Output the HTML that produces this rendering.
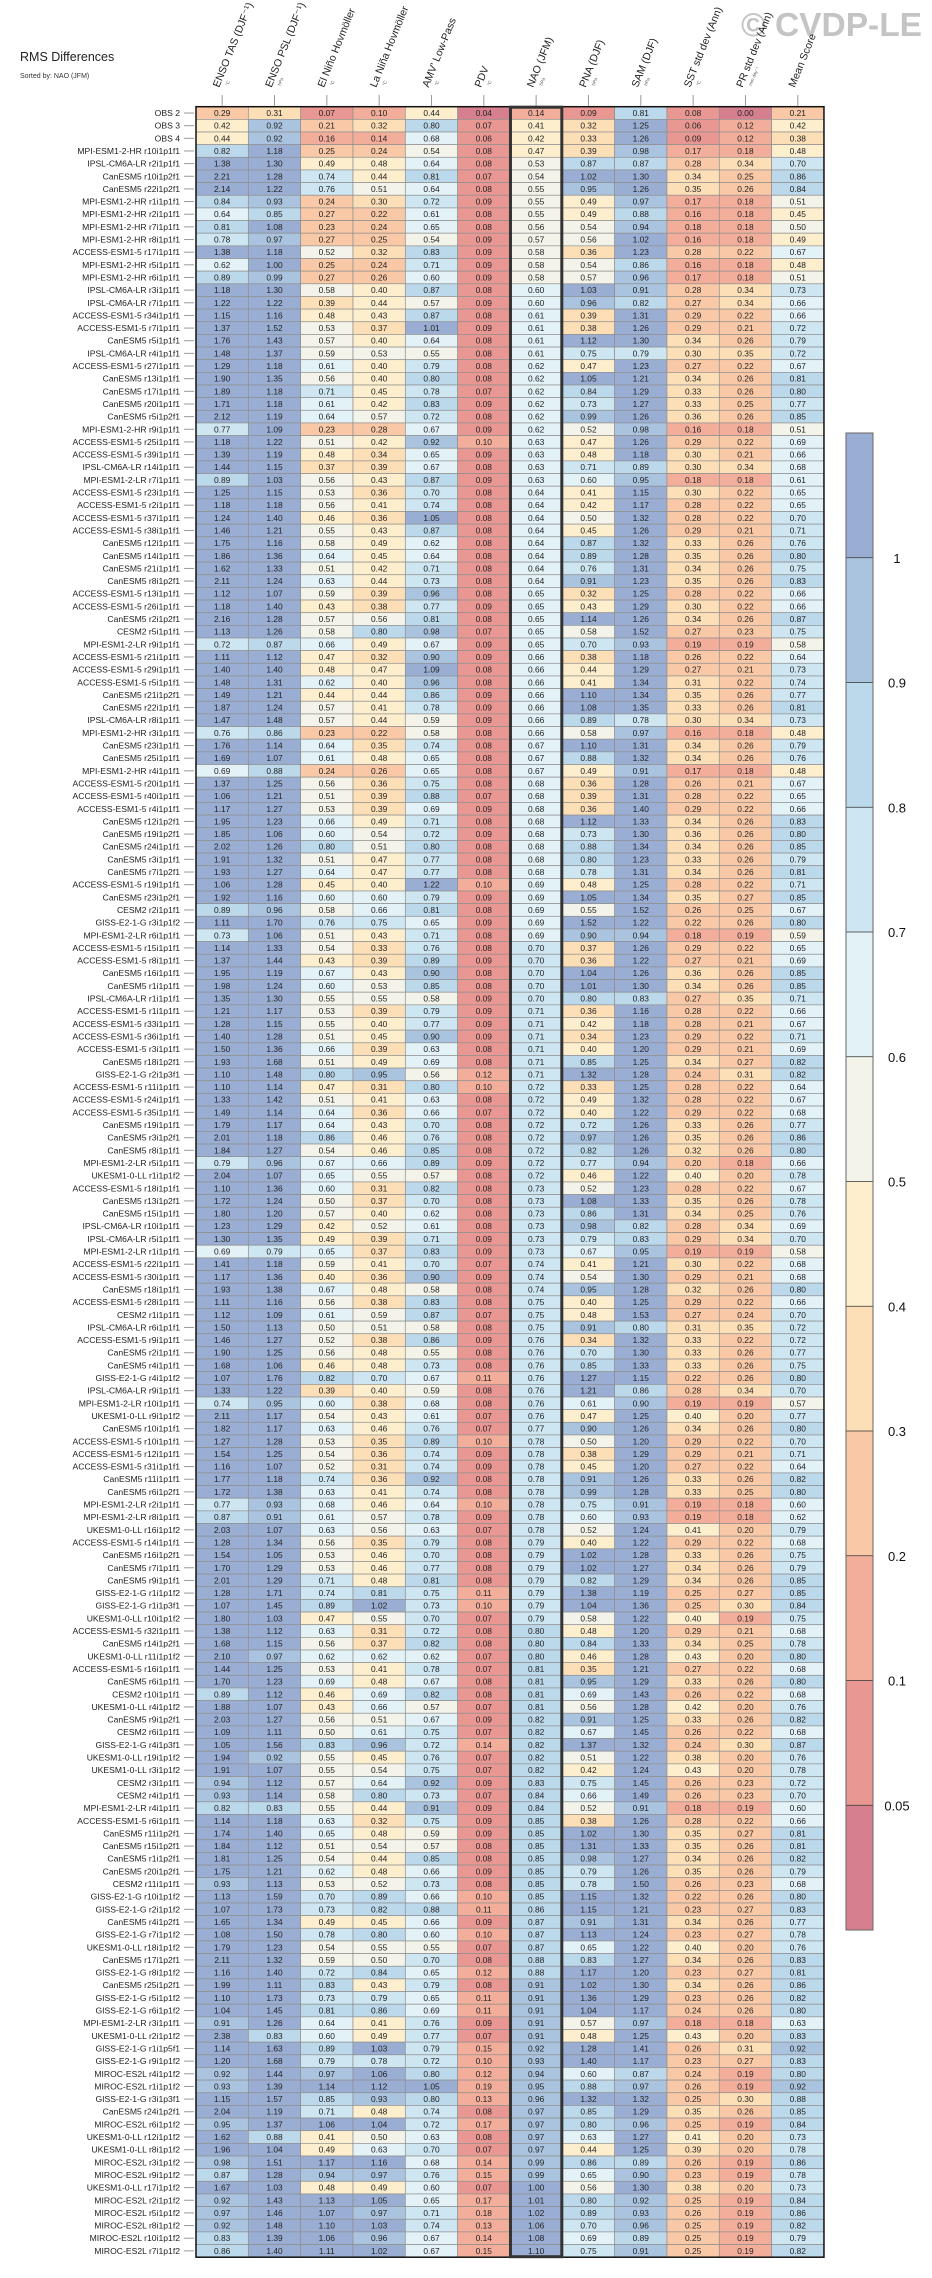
<!DOCTYPE html>
<html><head><meta charset="utf-8">
<style>
html,body{margin:0;padding:0;background:#fff;}
svg{display:block;font-family:"Liberation Sans",Arial,sans-serif;}
</style></head>
<body>
<svg id="chart" width="932" height="2278" viewBox="0 0 932 2278" xmlns="http://www.w3.org/2000/svg">
  <text x="20" y="61" font-size="12.5" fill="#222">RMS Differences</text>
  <text x="20" y="78" font-size="7" fill="#333">Sorted by: NAO (JFM)</text>
  <text x="741" y="36" font-size="33" font-weight="bold" fill="#c4c4c4" textLength="181" lengthAdjust="spacingAndGlyphs">© CVDP-LE</text>
  <g id="headers"></g>
  <g id="labels"></g>
  <g id="cells"></g>
  <g id="frame"></g>
  <g id="cbar"></g>
</svg>
<script>
const columns = ["ENSO TAS (DJF\u207B\u00B9)","ENSO PSL (DJF\u207B\u00B9)","El Niño Hovmöller","La Niña Hovmöller","AMV' Low-Pass","PDV","NAO (JFM)","PNA (DJF)","SAM (DJF)","SST std dev (Ann)","PR std dev (Ann)","Mean Score"];
const units = ["°C","hPa","°C","°C","°C","°C","hPa","hPa","hPa","°C","mm day\u207B\u00B9",""];
const models = ["OBS 2","OBS 3","OBS 4","MPI-ESM1-2-HR r10i1p1f1","IPSL-CM6A-LR r2i1p1f1","CanESM5 r10i1p2f1","CanESM5 r22i1p2f1","MPI-ESM1-2-HR r1i1p1f1","MPI-ESM1-2-HR r2i1p1f1","MPI-ESM1-2-HR r7i1p1f1","MPI-ESM1-2-HR r8i1p1f1","ACCESS-ESM1-5 r17i1p1f1","MPI-ESM1-2-HR r5i1p1f1","MPI-ESM1-2-HR r6i1p1f1","IPSL-CM6A-LR r3i1p1f1","IPSL-CM6A-LR r7i1p1f1","ACCESS-ESM1-5 r34i1p1f1","ACCESS-ESM1-5 r7i1p1f1","CanESM5 r5i1p1f1","IPSL-CM6A-LR r4i1p1f1","ACCESS-ESM1-5 r27i1p1f1","CanESM5 r13i1p1f1","CanESM5 r17i1p1f1",
"CanESM5 r20i1p1f1","CanESM5 r5i1p2f1","MPI-ESM1-2-HR r9i1p1f1","ACCESS-ESM1-5 r25i1p1f1","ACCESS-ESM1-5 r39i1p1f1","IPSL-CM6A-LR r14i1p1f1","MPI-ESM1-2-LR r7i1p1f1","ACCESS-ESM1-5 r23i1p1f1","ACCESS-ESM1-5 r2i1p1f1","ACCESS-ESM1-5 r37i1p1f1","ACCESS-ESM1-5 r38i1p1f1","CanESM5 r12i1p1f1","CanESM5 r14i1p1f1","CanESM5 r21i1p1f1","CanESM5 r8i1p2f1","ACCESS-ESM1-5 r13i1p1f1","ACCESS-ESM1-5 r26i1p1f1","CanESM5 r2i1p2f1","CESM2 r5i1p1f1","MPI-ESM1-2-LR r9i1p1f1","ACCESS-ESM1-5 r21i1p1f1","ACCESS-ESM1-5 r29i1p1f1","ACCESS-ESM1-5 r5i1p1f1","CanESM5 r21i1p2f1","CanESM5 r22i1p1f1","IPSL-CM6A-LR r8i1p1f1","MPI-ESM1-2-HR r3i1p1f1","CanESM5 r23i1p1f1","CanESM5 r25i1p1f1","MPI-ESM1-2-HR r4i1p1f1","ACCESS-ESM1-5 r20i1p1f1","ACCESS-ESM1-5 r40i1p1f1","ACCESS-ESM1-5 r4i1p1f1","CanESM5 r12i1p2f1","CanESM5 r19i1p2f1","CanESM5 r24i1p1f1","CanESM5 r3i1p1f1",
"CanESM5 r7i1p2f1","ACCESS-ESM1-5 r19i1p1f1","CanESM5 r23i1p2f1","CESM2 r2i1p1f1","GISS-E2-1-G r3i1p1f2","MPI-ESM1-2-LR r6i1p1f1","ACCESS-ESM1-5 r15i1p1f1","ACCESS-ESM1-5 r8i1p1f1","CanESM5 r16i1p1f1","CanESM5 r1i1p1f1","IPSL-CM6A-LR r1i1p1f1","ACCESS-ESM1-5 r1i1p1f1","ACCESS-ESM1-5 r33i1p1f1","ACCESS-ESM1-5 r36i1p1f1","ACCESS-ESM1-5 r3i1p1f1","CanESM5 r18i1p2f1","GISS-E2-1-G r2i1p3f1","ACCESS-ESM1-5 r11i1p1f1","ACCESS-ESM1-5 r24i1p1f1","ACCESS-ESM1-5 r35i1p1f1","CanESM5 r19i1p1f1","CanESM5 r3i1p2f1","CanESM5 r8i1p1f1","MPI-ESM1-2-LR r5i1p1f1","UKESM1-0-LL r1i1p1f2","ACCESS-ESM1-5 r18i1p1f1","CanESM5 r13i1p2f1","CanESM5 r15i1p1f1","IPSL-CM6A-LR r10i1p1f1","IPSL-CM6A-LR r5i1p1f1","MPI-ESM1-2-LR r1i1p1f1","ACCESS-ESM1-5 r22i1p1f1","ACCESS-ESM1-5 r30i1p1f1","CanESM5 r18i1p1f1","ACCESS-ESM1-5 r28i1p1f1","CESM2 r1i1p1f1",
"IPSL-CM6A-LR r6i1p1f1","ACCESS-ESM1-5 r9i1p1f1","CanESM5 r2i1p1f1","CanESM5 r4i1p1f1","GISS-E2-1-G r4i1p1f2","IPSL-CM6A-LR r9i1p1f1","MPI-ESM1-2-LR r10i1p1f1","UKESM1-0-LL r9i1p1f2","CanESM5 r10i1p1f1","ACCESS-ESM1-5 r10i1p1f1","ACCESS-ESM1-5 r12i1p1f1","ACCESS-ESM1-5 r31i1p1f1","CanESM5 r11i1p1f1","CanESM5 r6i1p2f1","MPI-ESM1-2-LR r2i1p1f1","MPI-ESM1-2-LR r8i1p1f1","UKESM1-0-LL r16i1p1f2","ACCESS-ESM1-5 r14i1p1f1","CanESM5 r16i1p2f1","CanESM5 r7i1p1f1","CanESM5 r9i1p1f1","GISS-E2-1-G r1i1p1f2","GISS-E2-1-G r1i1p3f1","UKESM1-0-LL r10i1p1f2","ACCESS-ESM1-5 r32i1p1f1","CanESM5 r14i1p2f1","UKESM1-0-LL r11i1p1f2","ACCESS-ESM1-5 r16i1p1f1","CanESM5 r6i1p1f1","CESM2 r10i1p1f1","UKESM1-0-LL r4i1p1f2","CanESM5 r9i1p2f1","CESM2 r6i1p1f1","GISS-E2-1-G r4i1p3f1","UKESM1-0-LL r19i1p1f2","UKESM1-0-LL r3i1p1f2","CESM2 r3i1p1f1",
"CESM2 r4i1p1f1","MPI-ESM1-2-LR r4i1p1f1","ACCESS-ESM1-5 r6i1p1f1","CanESM5 r11i1p2f1","CanESM5 r15i1p2f1","CanESM5 r1i1p2f1","CanESM5 r20i1p2f1","CESM2 r11i1p1f1","GISS-E2-1-G r10i1p1f2","GISS-E2-1-G r2i1p1f2","CanESM5 r4i1p2f1","GISS-E2-1-G r7i1p1f2","UKESM1-0-LL r18i1p1f2","CanESM5 r17i1p2f1","GISS-E2-1-G r8i1p1f2","CanESM5 r25i1p2f1","GISS-E2-1-G r5i1p1f2","GISS-E2-1-G r6i1p1f2","MPI-ESM1-2-LR r3i1p1f1","UKESM1-0-LL r2i1p1f2","GISS-E2-1-G r1i1p5f1","GISS-E2-1-G r9i1p1f2","MIROC-ES2L r4i1p1f2","MIROC-ES2L r1i1p1f2","GISS-E2-1-G r3i1p3f1","CanESM5 r24i1p2f1","MIROC-ES2L r6i1p1f2","UKESM1-0-LL r12i1p1f2","UKESM1-0-LL r8i1p1f2","MIROC-ES2L r3i1p1f2","MIROC-ES2L r9i1p1f2","UKESM1-0-LL r17i1p1f2","MIROC-ES2L r2i1p1f2","MIROC-ES2L r5i1p1f2","MIROC-ES2L r8i1p1f2","MIROC-ES2L r10i1p1f2","MIROC-ES2L r7i1p1f2"];
const rmsValues = [
[0.29,0.31,0.07,0.10,0.44,0.04,0.14,0.09,0.81,0.08,0.00,0.21],
[0.42,0.92,0.21,0.32,0.80,0.07,0.41,0.32,1.25,0.06,0.12,0.42],
[0.44,0.92,0.16,0.14,0.68,0.06,0.42,0.33,1.26,0.09,0.12,0.38],
[0.82,1.18,0.25,0.24,0.54,0.08,0.47,0.39,0.98,0.17,0.18,0.48],
[1.38,1.30,0.49,0.48,0.64,0.08,0.53,0.87,0.87,0.28,0.34,0.70],
[2.21,1.28,0.74,0.44,0.81,0.07,0.54,1.02,1.30,0.34,0.25,0.86],
[2.14,1.22,0.76,0.51,0.64,0.08,0.55,0.95,1.26,0.35,0.26,0.84],
[0.84,0.93,0.24,0.30,0.72,0.09,0.55,0.49,0.97,0.17,0.18,0.51],
[0.64,0.85,0.27,0.22,0.61,0.08,0.55,0.49,0.88,0.16,0.18,0.45],
[0.81,1.08,0.23,0.24,0.65,0.08,0.56,0.54,0.94,0.18,0.18,0.50],
[0.78,0.97,0.27,0.25,0.54,0.09,0.57,0.56,1.02,0.16,0.18,0.49],
[1.38,1.18,0.52,0.32,0.83,0.09,0.58,0.36,1.23,0.28,0.22,0.67],
[0.62,1.00,0.25,0.24,0.71,0.09,0.58,0.54,0.86,0.16,0.18,0.48],
[0.89,0.99,0.27,0.26,0.60,0.09,0.58,0.57,0.96,0.17,0.18,0.51],
[1.18,1.30,0.58,0.40,0.87,0.08,0.60,1.03,0.91,0.28,0.34,0.73],
[1.22,1.22,0.39,0.44,0.57,0.09,0.60,0.96,0.82,0.27,0.34,0.66],
[1.15,1.16,0.48,0.43,0.87,0.08,0.61,0.39,1.31,0.29,0.22,0.66],
[1.37,1.52,0.53,0.37,1.01,0.09,0.61,0.38,1.26,0.29,0.21,0.72],
[1.76,1.43,0.57,0.40,0.64,0.08,0.61,1.12,1.30,0.34,0.26,0.79],
[1.48,1.37,0.59,0.53,0.55,0.08,0.61,0.75,0.79,0.30,0.35,0.72],
[1.29,1.18,0.61,0.40,0.79,0.08,0.62,0.47,1.23,0.27,0.22,0.67],
[1.90,1.35,0.56,0.40,0.80,0.08,0.62,1.05,1.21,0.34,0.26,0.81],
[1.89,1.18,0.71,0.45,0.78,0.07,0.62,0.84,1.29,0.33,0.26,0.80],
[1.71,1.18,0.61,0.42,0.83,0.09,0.62,0.73,1.27,0.33,0.25,0.77],
[2.12,1.19,0.64,0.57,0.72,0.08,0.62,0.99,1.26,0.36,0.26,0.85],
[0.77,1.09,0.23,0.28,0.67,0.09,0.62,0.52,0.98,0.16,0.18,0.51],
[1.18,1.22,0.51,0.42,0.92,0.10,0.63,0.47,1.26,0.29,0.22,0.69],
[1.39,1.19,0.48,0.34,0.65,0.09,0.63,0.48,1.18,0.30,0.21,0.66],
[1.44,1.15,0.37,0.39,0.67,0.08,0.63,0.71,0.89,0.30,0.34,0.68],
[0.89,1.03,0.56,0.43,0.87,0.09,0.63,0.60,0.95,0.18,0.18,0.61],
[1.25,1.15,0.53,0.36,0.70,0.08,0.64,0.41,1.15,0.30,0.22,0.65],
[1.18,1.18,0.56,0.41,0.74,0.08,0.64,0.42,1.17,0.28,0.22,0.65],
[1.24,1.40,0.46,0.36,1.05,0.08,0.64,0.50,1.32,0.28,0.22,0.70],
[1.46,1.21,0.55,0.43,0.87,0.08,0.64,0.45,1.26,0.29,0.21,0.71],
[1.75,1.16,0.58,0.49,0.62,0.08,0.64,0.87,1.32,0.33,0.26,0.76],
[1.86,1.36,0.64,0.45,0.64,0.08,0.64,0.89,1.28,0.35,0.26,0.80],
[1.62,1.33,0.51,0.42,0.71,0.08,0.64,0.76,1.31,0.34,0.26,0.75],
[2.11,1.24,0.63,0.44,0.73,0.08,0.64,0.91,1.23,0.35,0.26,0.83],
[1.12,1.07,0.59,0.39,0.96,0.08,0.65,0.32,1.25,0.28,0.22,0.66],
[1.18,1.40,0.43,0.38,0.77,0.09,0.65,0.43,1.29,0.30,0.22,0.66],
[2.16,1.28,0.57,0.56,0.81,0.08,0.65,1.14,1.26,0.34,0.26,0.87],
[1.13,1.26,0.58,0.80,0.98,0.07,0.65,0.58,1.52,0.27,0.23,0.75],
[0.72,0.87,0.66,0.49,0.67,0.09,0.65,0.70,0.93,0.19,0.19,0.58],
[1.11,1.12,0.47,0.32,0.90,0.09,0.66,0.38,1.18,0.26,0.22,0.64],
[1.40,1.40,0.48,0.47,1.09,0.08,0.66,0.44,1.29,0.27,0.21,0.73],
[1.48,1.31,0.62,0.40,0.96,0.08,0.66,0.41,1.34,0.31,0.22,0.74],
[1.49,1.21,0.44,0.44,0.86,0.09,0.66,1.10,1.34,0.35,0.26,0.77],
[1.87,1.24,0.57,0.41,0.78,0.09,0.66,1.08,1.35,0.33,0.26,0.81],
[1.47,1.48,0.57,0.44,0.59,0.09,0.66,0.89,0.78,0.30,0.34,0.73],
[0.76,0.86,0.23,0.22,0.58,0.08,0.66,0.58,0.97,0.16,0.18,0.48],
[1.76,1.14,0.64,0.35,0.74,0.08,0.67,1.10,1.31,0.34,0.26,0.79],
[1.69,1.07,0.61,0.48,0.65,0.08,0.67,0.88,1.32,0.34,0.26,0.76],
[0.69,0.88,0.24,0.26,0.65,0.08,0.67,0.49,0.91,0.17,0.18,0.48],
[1.37,1.25,0.56,0.36,0.75,0.08,0.68,0.36,1.28,0.26,0.21,0.67],
[1.06,1.21,0.51,0.39,0.88,0.07,0.68,0.39,1.31,0.28,0.22,0.65],
[1.17,1.27,0.53,0.39,0.69,0.09,0.68,0.36,1.40,0.29,0.22,0.66],
[1.95,1.23,0.66,0.49,0.71,0.08,0.68,1.12,1.33,0.34,0.26,0.83],
[1.85,1.06,0.60,0.54,0.72,0.09,0.68,0.73,1.30,0.36,0.26,0.80],
[2.02,1.26,0.80,0.51,0.80,0.08,0.68,0.88,1.34,0.34,0.26,0.85],
[1.91,1.32,0.51,0.47,0.77,0.08,0.68,0.80,1.23,0.33,0.26,0.79],
[1.93,1.27,0.64,0.47,0.77,0.08,0.68,0.78,1.31,0.34,0.26,0.81],
[1.06,1.28,0.45,0.40,1.22,0.10,0.69,0.48,1.25,0.28,0.22,0.71],
[1.92,1.16,0.60,0.60,0.79,0.09,0.69,1.05,1.34,0.35,0.27,0.85],
[0.89,0.96,0.58,0.66,0.81,0.08,0.69,0.55,1.52,0.26,0.25,0.67],
[1.11,1.70,0.76,0.75,0.65,0.09,0.69,1.52,1.22,0.22,0.26,0.80],
[0.73,1.06,0.51,0.43,0.71,0.08,0.69,0.90,0.94,0.18,0.19,0.59],
[1.14,1.33,0.54,0.33,0.76,0.08,0.70,0.37,1.26,0.29,0.22,0.65],
[1.37,1.44,0.43,0.39,0.89,0.09,0.70,0.36,1.22,0.27,0.21,0.69],
[1.95,1.19,0.67,0.43,0.90,0.08,0.70,1.04,1.26,0.36,0.26,0.85],
[1.98,1.24,0.60,0.53,0.85,0.08,0.70,1.01,1.30,0.34,0.26,0.85],
[1.35,1.30,0.55,0.55,0.58,0.09,0.70,0.80,0.83,0.27,0.35,0.71],
[1.21,1.17,0.53,0.39,0.79,0.09,0.71,0.36,1.16,0.28,0.22,0.66],
[1.28,1.15,0.55,0.40,0.77,0.09,0.71,0.42,1.18,0.28,0.21,0.67],
[1.40,1.28,0.51,0.45,0.90,0.09,0.71,0.34,1.23,0.29,0.22,0.71],
[1.50,1.36,0.66,0.39,0.63,0.08,0.71,0.40,1.20,0.29,0.21,0.69],
[1.93,1.68,0.51,0.49,0.69,0.08,0.71,0.85,1.25,0.34,0.27,0.82],
[1.10,1.48,0.80,0.95,0.56,0.12,0.71,1.32,1.28,0.24,0.31,0.82],
[1.10,1.14,0.47,0.31,0.80,0.10,0.72,0.33,1.25,0.28,0.22,0.64],
[1.33,1.42,0.51,0.41,0.63,0.08,0.72,0.49,1.32,0.28,0.22,0.67],
[1.49,1.14,0.64,0.36,0.66,0.07,0.72,0.40,1.22,0.29,0.22,0.68],
[1.79,1.17,0.64,0.43,0.70,0.08,0.72,0.72,1.26,0.33,0.26,0.77],
[2.01,1.18,0.86,0.46,0.76,0.08,0.72,0.97,1.26,0.35,0.26,0.86],
[1.84,1.27,0.54,0.46,0.85,0.08,0.72,0.82,1.26,0.32,0.26,0.80],
[0.79,0.96,0.67,0.66,0.89,0.09,0.72,0.77,0.94,0.20,0.18,0.66],
[2.04,1.07,0.65,0.55,0.57,0.08,0.72,0.46,1.22,0.40,0.20,0.78],
[1.10,1.36,0.60,0.31,0.82,0.08,0.73,0.52,1.23,0.28,0.22,0.67],
[1.72,1.24,0.50,0.37,0.70,0.08,0.73,1.08,1.33,0.35,0.26,0.78],
[1.80,1.20,0.57,0.40,0.62,0.08,0.73,0.86,1.31,0.34,0.25,0.76],
[1.23,1.29,0.42,0.52,0.61,0.08,0.73,0.98,0.82,0.28,0.34,0.69],
[1.30,1.35,0.49,0.39,0.71,0.09,0.73,0.79,0.83,0.29,0.34,0.70],
[0.69,0.79,0.65,0.37,0.83,0.09,0.73,0.67,0.95,0.19,0.19,0.58],
[1.41,1.18,0.59,0.41,0.70,0.07,0.74,0.41,1.21,0.30,0.22,0.68],
[1.17,1.36,0.40,0.36,0.90,0.09,0.74,0.54,1.30,0.29,0.21,0.68],
[1.93,1.38,0.67,0.48,0.58,0.08,0.74,0.95,1.28,0.32,0.26,0.80],
[1.11,1.16,0.56,0.38,0.83,0.08,0.75,0.40,1.25,0.29,0.22,0.66],
[1.12,1.09,0.61,0.59,0.87,0.07,0.75,0.48,1.53,0.27,0.24,0.70],
[1.50,1.13,0.50,0.51,0.58,0.08,0.75,0.91,0.80,0.31,0.35,0.72],
[1.46,1.27,0.52,0.38,0.86,0.09,0.76,0.34,1.32,0.33,0.22,0.72],
[1.90,1.25,0.56,0.48,0.55,0.08,0.76,0.70,1.30,0.33,0.26,0.77],
[1.68,1.06,0.46,0.48,0.73,0.08,0.76,0.85,1.33,0.33,0.26,0.75],
[1.07,1.76,0.82,0.70,0.67,0.11,0.76,1.27,1.15,0.22,0.26,0.80],
[1.33,1.22,0.39,0.40,0.59,0.08,0.76,1.21,0.86,0.28,0.34,0.70],
[0.74,0.95,0.60,0.38,0.68,0.08,0.76,0.61,0.90,0.19,0.19,0.57],
[2.11,1.17,0.54,0.43,0.61,0.07,0.76,0.47,1.25,0.40,0.20,0.77],
[1.82,1.17,0.63,0.46,0.76,0.07,0.77,0.90,1.26,0.34,0.26,0.80],
[1.27,1.28,0.53,0.35,0.89,0.10,0.78,0.50,1.20,0.29,0.22,0.70],
[1.54,1.25,0.54,0.36,0.74,0.09,0.78,0.38,1.29,0.29,0.21,0.71],
[1.16,1.07,0.52,0.31,0.74,0.09,0.78,0.45,1.20,0.27,0.22,0.64],
[1.77,1.18,0.74,0.36,0.92,0.08,0.78,0.91,1.26,0.33,0.26,0.82],
[1.72,1.38,0.63,0.41,0.74,0.08,0.78,0.99,1.28,0.33,0.25,0.80],
[0.77,0.93,0.68,0.46,0.64,0.10,0.78,0.75,0.91,0.19,0.18,0.60],
[0.87,0.91,0.61,0.57,0.78,0.09,0.78,0.60,0.93,0.19,0.18,0.62],
[2.03,1.07,0.63,0.56,0.63,0.07,0.78,0.52,1.24,0.41,0.20,0.79],
[1.28,1.34,0.56,0.35,0.79,0.08,0.79,0.40,1.22,0.29,0.22,0.68],
[1.54,1.05,0.53,0.46,0.70,0.08,0.79,1.02,1.28,0.33,0.26,0.75],
[1.70,1.29,0.53,0.46,0.77,0.08,0.79,1.02,1.27,0.34,0.26,0.79],
[2.01,1.29,0.71,0.48,0.81,0.08,0.79,0.82,1.29,0.34,0.26,0.85],
[1.28,1.71,0.74,0.81,0.75,0.11,0.79,1.38,1.19,0.25,0.27,0.85],
[1.07,1.45,0.89,1.02,0.73,0.10,0.79,1.04,1.36,0.25,0.30,0.84],
[1.80,1.03,0.47,0.55,0.70,0.07,0.79,0.58,1.22,0.40,0.19,0.75],
[1.38,1.12,0.63,0.31,0.72,0.08,0.80,0.48,1.20,0.29,0.21,0.68],
[1.68,1.15,0.56,0.37,0.82,0.08,0.80,0.84,1.33,0.34,0.25,0.78],
[2.10,0.97,0.62,0.62,0.62,0.07,0.80,0.46,1.28,0.43,0.20,0.80],
[1.44,1.25,0.53,0.41,0.78,0.07,0.81,0.35,1.21,0.27,0.22,0.68],
[1.70,1.23,0.69,0.48,0.67,0.08,0.81,0.95,1.29,0.33,0.26,0.80],
[0.89,1.12,0.46,0.69,0.82,0.08,0.81,0.69,1.43,0.26,0.22,0.68],
[1.88,1.07,0.43,0.66,0.57,0.07,0.81,0.56,1.28,0.42,0.20,0.76],
[2.03,1.27,0.56,0.51,0.67,0.09,0.82,0.91,1.25,0.33,0.26,0.82],
[1.09,1.11,0.50,0.61,0.75,0.07,0.82,0.67,1.45,0.26,0.22,0.68],
[1.05,1.56,0.83,0.96,0.72,0.14,0.82,1.37,1.32,0.24,0.30,0.87],
[1.94,0.92,0.55,0.45,0.76,0.07,0.82,0.51,1.22,0.38,0.20,0.76],
[1.91,1.07,0.55,0.54,0.75,0.07,0.82,0.42,1.24,0.43,0.20,0.78],
[0.94,1.12,0.57,0.64,0.92,0.09,0.83,0.75,1.45,0.26,0.23,0.72],
[0.93,1.14,0.58,0.80,0.73,0.07,0.84,0.66,1.49,0.26,0.23,0.70],
[0.82,0.83,0.55,0.44,0.91,0.09,0.84,0.52,0.91,0.18,0.19,0.60],
[1.14,1.18,0.63,0.32,0.75,0.09,0.85,0.38,1.26,0.28,0.22,0.66],
[1.74,1.40,0.65,0.48,0.59,0.09,0.85,1.02,1.30,0.35,0.27,0.81],
[1.84,1.12,0.51,0.54,0.57,0.08,0.85,1.31,1.33,0.35,0.26,0.81],
[1.81,1.25,0.54,0.44,0.85,0.08,0.85,0.98,1.27,0.34,0.26,0.82],
[1.75,1.21,0.62,0.48,0.66,0.09,0.85,0.79,1.26,0.35,0.26,0.79],
[0.93,1.13,0.53,0.52,0.73,0.08,0.85,0.78,1.50,0.26,0.23,0.68],
[1.13,1.59,0.70,0.89,0.66,0.10,0.85,1.15,1.32,0.22,0.26,0.80],
[1.07,1.73,0.73,0.82,0.88,0.11,0.86,1.15,1.21,0.23,0.27,0.83],
[1.65,1.34,0.49,0.45,0.66,0.09,0.87,0.91,1.31,0.34,0.26,0.77],
[1.08,1.50,0.78,0.80,0.60,0.10,0.87,1.13,1.24,0.23,0.27,0.78],
[1.79,1.23,0.54,0.55,0.55,0.07,0.87,0.65,1.22,0.40,0.20,0.76],
[2.11,1.32,0.59,0.50,0.70,0.08,0.88,0.83,1.27,0.34,0.26,0.83],
[1.16,1.40,0.72,0.84,0.65,0.12,0.88,1.17,1.20,0.23,0.27,0.81],
[1.99,1.11,0.83,0.43,0.79,0.08,0.91,1.02,1.30,0.34,0.26,0.86],
[1.10,1.73,0.73,0.79,0.65,0.11,0.91,1.36,1.29,0.23,0.26,0.82],
[1.04,1.45,0.81,0.86,0.69,0.11,0.91,1.04,1.17,0.24,0.26,0.80],
[0.91,1.26,0.64,0.41,0.76,0.09,0.91,0.57,0.97,0.18,0.18,0.63],
[2.38,0.83,0.60,0.49,0.77,0.07,0.91,0.48,1.25,0.43,0.20,0.83],
[1.14,1.63,0.89,1.03,0.79,0.15,0.92,1.28,1.41,0.26,0.31,0.92],
[1.20,1.68,0.79,0.78,0.72,0.10,0.93,1.40,1.17,0.23,0.27,0.83],
[0.92,1.44,0.97,1.06,0.80,0.12,0.94,0.60,0.87,0.24,0.19,0.80],
[0.93,1.39,1.14,1.12,1.05,0.19,0.95,0.88,0.97,0.26,0.19,0.92],
[1.15,1.57,0.85,0.93,0.80,0.13,0.96,1.32,1.32,0.25,0.30,0.88],
[2.04,1.19,0.71,0.48,0.74,0.08,0.97,0.85,1.29,0.35,0.26,0.85],
[0.95,1.37,1.06,1.04,0.72,0.17,0.97,0.80,0.96,0.25,0.19,0.84],
[1.62,0.88,0.41,0.50,0.63,0.08,0.97,0.63,1.27,0.41,0.20,0.73],
[1.96,1.04,0.49,0.63,0.70,0.07,0.97,0.44,1.25,0.39,0.20,0.78],
[0.98,1.51,1.17,1.16,0.68,0.14,0.99,0.86,0.89,0.26,0.19,0.86],
[0.87,1.28,0.94,0.97,0.76,0.15,0.99,0.65,0.90,0.23,0.19,0.78],
[1.67,1.03,0.48,0.49,0.60,0.07,1.00,0.56,1.30,0.38,0.20,0.73],
[0.92,1.43,1.13,1.05,0.65,0.17,1.01,0.80,0.92,0.25,0.19,0.84],
[0.97,1.46,1.07,0.97,0.71,0.18,1.02,0.89,0.93,0.26,0.19,0.86],
[0.92,1.48,1.10,1.03,0.74,0.13,1.06,0.70,0.96,0.25,0.19,0.82],
[0.83,1.39,1.06,0.96,0.67,0.14,1.08,0.69,0.89,0.25,0.19,0.79],
[0.86,1.40,1.11,1.02,0.67,0.15,1.10,0.75,0.91,0.25,0.19,0.82]
];
const binEdges = [1,0.9,0.8,0.7,0.6,0.5,0.4,0.3,0.2,0.1,0.05];
const binLabels = ["1","0.9","0.8","0.7","0.6","0.5","0.4","0.3","0.2","0.1","0.05"];
const binColors = ["#9aadd3","#aac4df","#bcd8eb","#cde6f1","#e3f2f7","#f3f3e9","#fdefcd","#fddfb7","#f9c8a6","#f3ae9b","#e99792","#d6808f"];

const NS="http://www.w3.org/2000/svg";
const X0=196, CW=52.33, Y0=106.7, RH=12.65;
function xOf(c){return X0+c*CW;}
function yOf(r){return Y0+r*RH;}
function colorOf(v){for(let i=0;i<binEdges.length;i++){if(v>=binEdges[i]-1e-9)return binColors[i];}return binColors[binColors.length-1];}
function mk(tag,attrs,parent){const e=document.createElementNS(NS,tag);for(const k in attrs)e.setAttribute(k,attrs[k]);parent.appendChild(e);return e;}

const gH=document.getElementById('headers'),gL=document.getElementById('labels'),gC=document.getElementById('cells'),gF=document.getElementById('frame'),gB=document.getElementById('cbar');
const nR=models.length,nC=columns.length;

columns.forEach((name,c)=>{
  const cx=xOf(c)+CW/2;
  const t=mk('text',{x:0,y:0,'font-size':'10.5',fill:'#222',transform:`translate(${cx-3},88) rotate(-68)`},gH);
  t.textContent=name;
  
  
  if(units[c]){
    const u=mk('text',{x:0,y:0,'font-size':'4.5',fill:'#555',transform:`translate(${cx+6},86) rotate(-68)`},gH);
    u.textContent=units[c];
    
    
  }
  const tk=mk('line',{x1:cx,x2:cx,y1:95,y2:Y0-1,stroke:'#999','stroke-width':1},gH);
  
  
});

models.forEach((m,r)=>{
  const cy=yOf(r)+RH/2;
  const t=mk('text',{x:180,y:cy+3,'font-size':'8.6','text-anchor':'end',fill:'#222'},gL);
  t.textContent=m;
  
  
  const tk=mk('line',{x1:184,x2:194,y1:cy,y2:cy,stroke:'#999','stroke-width':1},gL);
  
  
  rmsValues[r].forEach((v,c)=>{
    const rc=mk('rect',{x:xOf(c),y:yOf(r),width:CW,height:RH,fill:colorOf(v),stroke:'#8f8f8f','stroke-width':0.7},gC);
    
    
    const tx=mk('text',{x:xOf(c)+CW/2,y:yOf(r)+RH/2+3,'font-size':'8.4','text-anchor':'middle',fill:'#222'},gC);
    tx.textContent=v.toFixed(2);
    
    
  });
});

const box=mk('rect',{x:X0,y:Y0,width:nC*CW,height:nR*RH,fill:'none',stroke:'#111','stroke-width':1.5},gF);


const nao=mk('rect',{x:xOf(6)+0.5,y:Y0+0.5,width:CW-1,height:nR*RH-1,fill:'none',stroke:'#333','stroke-width':3},gF);



const CBX=846, CBW=27, CBY=433, SEG=124.75;
binColors.forEach((col,i)=>{
  const s=mk('rect',{x:CBX,y:CBY+i*SEG,width:CBW,height:SEG,fill:col},gB);
  
  
});
binLabels.forEach((lab,i)=>{
  const y=CBY+(i+1)*SEG;
  const l=mk('line',{x1:CBX,x2:CBX+CBW,y1:y,y2:y,stroke:'#333','stroke-width':0.8},gB);
  
  
  const t=mk('text',{x:897,y:y+5,'font-size':'13','text-anchor':'middle',fill:'#111'},gB);
  t.textContent=lab;
  
  
});
const cbo=mk('rect',{x:CBX,y:CBY,width:CBW,height:SEG*binColors.length,fill:'none',stroke:'#666','stroke-width':1},gB);


</script>
</body></html>
